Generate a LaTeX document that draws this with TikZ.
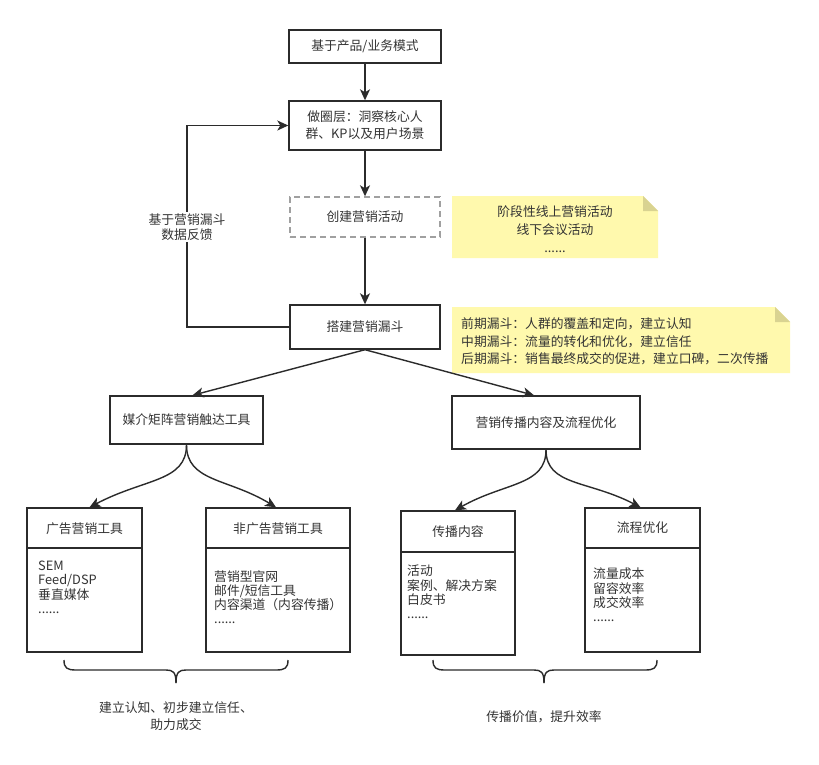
\documentclass[tikz,border=0pt]{standalone}
\usepackage{fontspec}
\setmainfont{Noto Sans CJK SC}
\usetikzlibrary{arrows.meta}
\definecolor{ink}{HTML}{2B2B2B}
\definecolor{txt}{HTML}{333333}
\definecolor{notefill}{HTML}{FFF9AD}
\definecolor{notefold}{HTML}{D9D391}
\definecolor{dashgray}{HTML}{A0A0A0}
\begin{document}
\begin{tikzpicture}[x=1pt,y=-1pt,
  every node/.style={text=txt, font=\fontsize{12.8}{17}\selectfont},
  box/.style={draw=ink, line width=1.4pt, fill=white, align=center, inner sep=0pt},
  dbox/.style={draw=dashgray, line width=1.4pt, dash pattern=on 6pt off 4pt, fill=white, align=center, inner sep=0pt},
  arr/.style={draw=ink, line width=1.4pt, -{Stealth[length=11pt,width=10pt,inset=3pt]}},
  line/.style={draw=ink, line width=1.4pt},
  bodytext/.style={anchor=north west, align=left, inner sep=0pt, font=\fontsize{12.8}{14.2}\selectfont},
  notetext/.style={align=center, inner sep=0pt, font=\fontsize{12.8}{18}\selectfont},
  note/.style={fill=notefill, draw=none},
  fold/.style={fill=notefold, draw=none}
]
\useasboundingbox (0,0) rectangle (819,764);
\fill[white] (0,0) rectangle (819,764);

% main column
\node[box, minimum width=152pt, minimum height=33pt] (b1) at (365,46.5) {基于产品/业务模式};
\node[box, minimum width=152pt, minimum height=49pt] (b2) at (365,125.5) {做圈层：洞察核心人\\群、KP以及用户场景};
\node[dbox, minimum width=150pt, minimum height=40pt] (b3) at (365,217) {创建营销活动};
\node[box, minimum width=150pt, minimum height=44pt] (b4) at (365,327) {搭建营销漏斗};
\node[box, minimum width=153pt, minimum height=48pt] (b5) at (186.5,420) {媒介矩阵营销触达工具};
\node[box, minimum width=188pt, minimum height=53pt] (b6) at (546,422.5) {营销传播内容及流程优化};

\draw[arr] (b1) -- (b2);
\draw[arr] (b2) -- (b3);
\draw[arr] (b3) -- (b4);

% feedback loop
\coordinate (fbA) at (187,327);
\coordinate (fbB) at (187,125.5);
\draw[arr] (b4.west) -- (fbA) -- (fbB) -- (b2.west);
\node[fill=white, align=center, inner sep=1.5pt, font=\fontsize{12.8}{15.5}\selectfont] (fbl) at (187,227) {基于营销漏斗\\数据反馈};

% notes
\path[note] (452,196) -- (643,196) -- (658,211) -- (658,258) -- (452,258) -- cycle;
\path[fold] (643,196) -- (658,211) -- (643,211) -- cycle;
\node[notetext] (n1) at (555,229) {阶段性线上营销活动\\线下会议活动\\......};

\path[note] (452,307) -- (775,307) -- (790,322) -- (790,373) -- (452,373) -- cycle;
\path[fold] (775,307) -- (790,322) -- (775,322) -- cycle;
\node[notetext, align=left, anchor=west, font=\fontsize{12.8}{17.5}\selectfont] (n2) at (461,341.5) {前期漏斗：人群的覆盖和定向，建立认知\\中期漏斗：流量的转化和优化，建立信任\\后期漏斗：销售最终成交的促进，建立口碑，二次传播};

% branches
\draw[arr] (b4.south) -- ([xshift=6pt]b5.north);
\draw[arr] (b4.south) -- ([xshift=-12pt]b6.north);

% bottom boxes
\node[box, minimum width=115pt, minimum height=144pt] (t1) at (84.5,580) {};
\node[box, minimum width=144pt, minimum height=144pt] (t2) at (278,580) {};
\node[box, minimum width=114pt, minimum height=144pt] (t3) at (458,583) {};
\node[box, minimum width=115pt, minimum height=144pt] (t4) at (642.5,580) {};
\draw[line] (27,548) -- (142,548);
\draw[line] (206,548) -- (350,548);
\draw[line] (401,552) -- (515,552);
\draw[line] (585,548) -- (700,548);

\node (h1) at (84.5,529) {广告营销工具};
\node (h2) at (278,529) {非广告营销工具};
\node (h3) at (458,532) {传播内容};
\node (h4) at (642.5,528) {流程优化};

\node[bodytext] (c1) at (38,561) {SEM\\Feed/DSP\\垂直媒体\\......};
\node[bodytext] (c2) at (214,570) {营销型官网\\邮件/短信工具\\内容渠道（内容传播）\\......};
\node[bodytext] (c3) at (407,565) {活动\\案例、解决方案\\白皮书\\......};
\node[bodytext] (c4) at (593,568) {流量成本\\留容效率\\成交效率\\......};

% curved arrows
\draw[arr] (b5.south) .. controls (186.5,482) and (145,478) .. ([xshift=5pt]t1.north);
\draw[arr] (b5.south) .. controls (186.5,482) and (228,478) .. ([xshift=-2pt]t2.north);
\draw[arr] (b6.south) .. controls (546,486) and (505,482) .. ([xshift=-3pt]t3.north);
\draw[arr] (b6.south) .. controls (546,486) and (588,480) .. ([xshift=-2pt]t4.north);

% braces
\draw[line] (64,660) .. controls (64,668) and (67,670) .. (76,670) -- (166,670) .. controls (173,670) and (176,672) .. (176,683);
\draw[line] (288,660) .. controls (288,668) and (285,670) .. (276,670) -- (186,670) .. controls (179,670) and (176,672) .. (176,683);
\draw[line] (433,660) .. controls (433,668) and (436,670) .. (445,670) -- (534,670) .. controls (541,670) and (544,672) .. (544,683);
\draw[line] (657,660) .. controls (657,668) and (654,670) .. (645,670) -- (554,670) .. controls (547,670) and (544,672) .. (544,683);

\node[align=center, font=\fontsize{12.8}{17}\selectfont] (s1) at (176,716.5) {建立认知、初步建立信任、\\助力成交};
\node (s2) at (544,717) {传播价值，提升效率};
\end{tikzpicture}
\end{document}
